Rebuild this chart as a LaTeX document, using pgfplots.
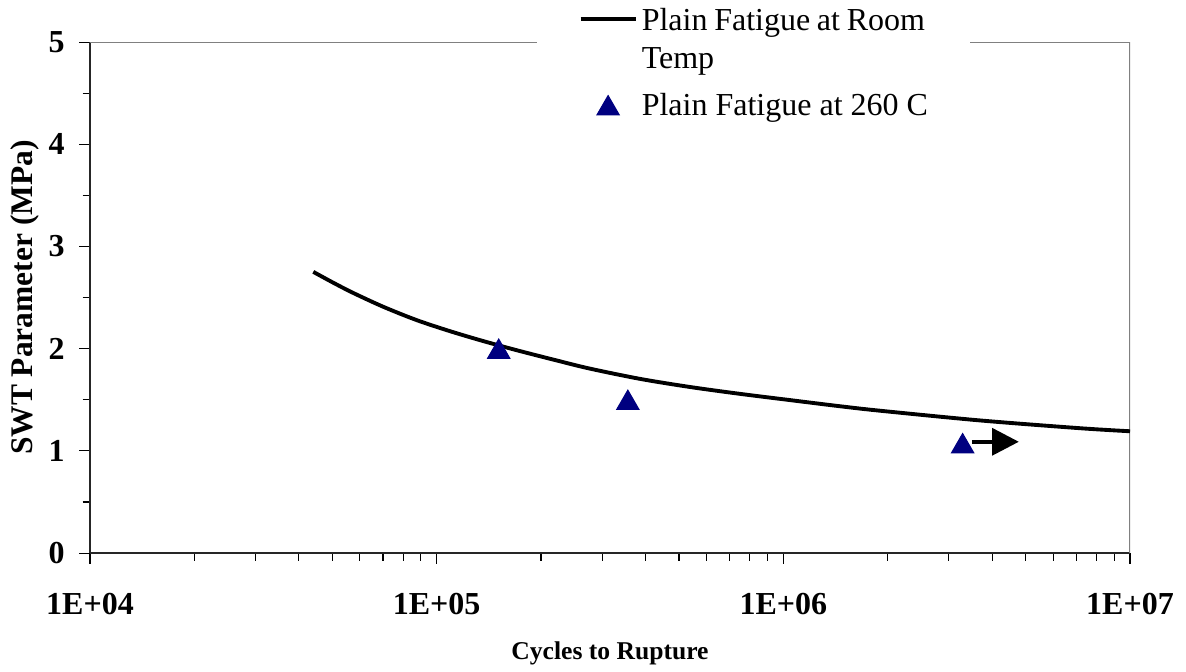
\documentclass[border=0pt]{standalone}
\usepackage{fontspec}
\setmainfont{Liberation Serif}
\usepackage{pgfplots}
\pgfplotsset{compat=1.18}
\usetikzlibrary{arrows.meta}
\definecolor{navy}{HTML}{000080}
\definecolor{frame}{HTML}{808080}

\begin{document}
\begin{tikzpicture}
\begin{axis}[
    scale only axis,
    width=390pt, height=191.6pt,
    xmode=log, log basis x=10,
    xmin=1e4, xmax=1e7,
    ymin=0, ymax=5,
    axis lines=left,
    axis line style={-, line width=0.6pt, color=black!85},
    tick align=outside,
    tick style={black, line width=0.4pt},
    major tick length=4.1pt,
    minor tick length=2.8pt,
    xtick={1e4,1e5,1e6,1e7},
    xticklabels={1E+04,1E+05,1E+06,1E+07},
    minor xtick={2e4,3e4,4e4,5e4,6e4,7e4,8e4,9e4,2e5,3e5,4e5,5e5,6e5,7e5,8e5,9e5,2e6,3e6,4e6,5e6,6e6,7e6,8e6,9e6},
    ytick={0,1,2,3,4,5},
    minor ytick={0.5,1.5,2.5,3.5,4.5},
    /pgf/number format/assume math mode=true,
    ticklabel style={font=\bfseries\fontsize{12}{14}\selectfont},
    xticklabel style={anchor=base, yshift=-19pt},
    yticklabel style={xshift=-1.9pt},
    xlabel={Cycles to Rupture},
    xlabel style={font=\bfseries\fontsize{9.6}{11}\selectfont, at={(axis description cs:0.5,-0.2074)}, anchor=base},
    ylabel={SWT Parameter (MPa)},
    ylabel style={font=\bfseries\fontsize{11.8}{14}\selectfont, at={(axis description cs:-0.0625,0.5)}, anchor=center},
    legend style={at={(rel axis cs:0.429,1.0822)}, anchor=north west,
        fill=white, draw=none, inner xsep=15.75pt, inner ysep=3pt,
        font=\fontsize{12}{14}\selectfont,
        nodes={inner sep=0pt, text depth=}, cells={anchor=base west},
        column sep=1.6pt, row sep=7pt},
]
\draw[color=frame, line width=0.8pt] (rel axis cs:0,1) -- (rel axis cs:1,1) -- (rel axis cs:1,0);

\addplot[black, line width=1.45pt, smooth,
    legend image code/.code={\draw[black, line width=1.45pt] (0pt,4.5pt) -- (20.6pt,4.5pt);}]
    coordinates {
    (44060,2.752) (50350,2.645) (57410,2.546) (70150,2.41) (87500,2.28)
    (109100,2.172) (136100,2.075) (170200,1.985) (221800,1.885)
    (276700,1.805) (385500,1.705) (538300,1.625) (749900,1.558)
    (1.045e6,1.497) (1.455e6,1.437) (1.901e6,1.393) (3.69e6,1.298)
    (7.16e6,1.222) (1e7,1.192)
    };
\addlegendentry{\parbox[t]{106.2pt}{Plain Fatigue at Room\\Temp}}

\addplot[only marks, mark=triangle*, mark size=4.8pt, color=navy,
    mark options={fill=navy, draw=navy, yshift=-1.2pt},
    legend image code/.code={\draw[only marks, mark=triangle*, mark size=4.8pt, mark options={fill=navy, draw=navy}] plot coordinates {(10.3pt,2.8pt)};}]
    coordinates {(1.51e5,2.0) (3.56e5,1.50) (3.29e6,1.075)};
\addlegendentry{Plain Fatigue at 260 C}

\addplot[forget plot, black, line width=1.5pt, -{Triangle[length=10pt, width=10pt]}]
    coordinates {(3.5e6,1.089) (4.78e6,1.089)};
\end{axis}
\pgfresetboundingbox
\path (-33.75pt,-44.25pt) rectangle (411pt,207.4pt);
\end{tikzpicture}
\end{document}
